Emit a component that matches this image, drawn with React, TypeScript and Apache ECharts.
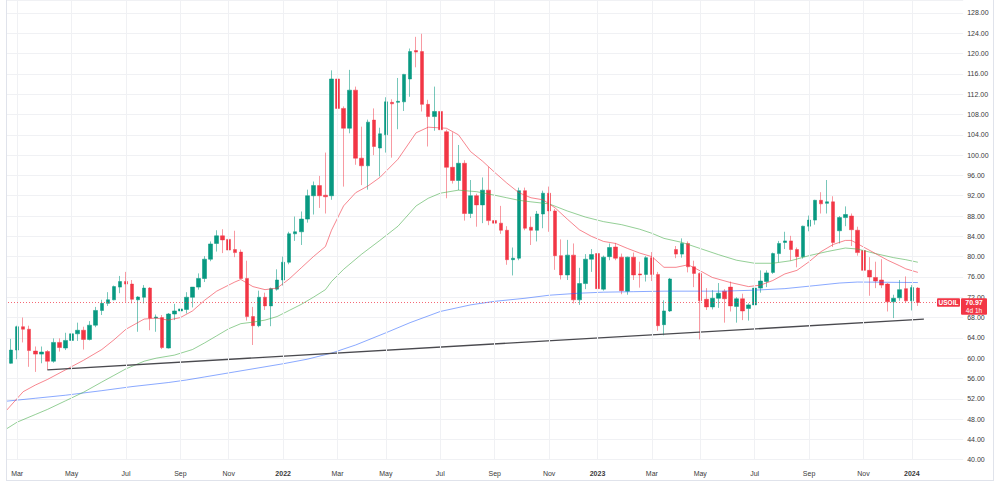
import React, { useEffect, useRef } from 'react';
import * as echarts from 'echarts';

// Weekly USOIL candles: [week, open, high, low, close]
const candles: [string, number, number, number, number][] = [
  ['2021-02-15', 59.8, 62.3, 58.5, 59.0],
  ['2021-02-22', 59.0, 63.8, 58.9, 61.6],
  ['2021-03-01', 61.6, 66.4, 59.8, 66.2],
  ['2021-03-08', 66.2, 68.0, 63.1, 65.7],
  ['2021-03-15', 65.7, 66.4, 58.3, 61.5],
  ['2021-03-22', 61.4, 62.3, 57.3, 60.8],
  ['2021-03-29', 60.8, 62.3, 59.0, 61.2],
  ['2021-04-05', 61.3, 61.6, 57.7, 59.4],
  ['2021-04-12', 59.4, 63.9, 59.1, 63.1],
  ['2021-04-19', 63.1, 63.9, 61.3, 62.1],
  ['2021-04-26', 62.0, 65.0, 61.6, 63.5],
  ['2021-05-03', 63.5, 66.7, 63.2, 64.8],
  ['2021-05-10', 64.8, 67.0, 63.4, 65.5],
  ['2021-05-17', 65.5, 66.2, 61.7, 63.7],
  ['2021-05-24', 63.7, 67.3, 63.5, 66.5],
  ['2021-05-31', 66.5, 70.1, 66.1, 69.4],
  ['2021-06-07', 69.4, 71.5, 68.5, 70.8],
  ['2021-06-14', 70.8, 73.0, 70.3, 71.5],
  ['2021-06-21', 71.5, 74.3, 71.4, 74.1],
  ['2021-06-28', 74.0, 76.2, 72.8, 75.1],
  ['2021-07-05', 75.1, 77.0, 71.1, 74.6],
  ['2021-07-12', 74.6, 75.4, 70.8, 71.6],
  ['2021-07-19', 71.5, 72.2, 65.2, 72.05],
  ['2021-07-26', 72.0, 74.4, 70.8, 73.8],
  ['2021-08-02', 73.8, 74.0, 65.5, 67.9],
  ['2021-08-09', 67.9, 68.6, 65.2, 68.1],
  ['2021-08-16', 68.0, 68.5, 61.8, 62.1],
  ['2021-08-23', 62.0, 68.9, 61.9, 68.7],
  ['2021-08-30', 68.7, 70.7, 67.5, 69.3],
  ['2021-09-06', 69.3, 70.3, 67.6, 69.7],
  ['2021-09-13', 69.6, 73.0, 68.8, 72.0],
  ['2021-09-20', 72.0, 74.0, 70.0, 74.0],
  ['2021-09-27', 74.0, 76.7, 73.5, 75.7],
  ['2021-10-04', 75.7, 80.1, 75.0, 79.5],
  ['2021-10-11', 79.5, 83.0, 79.1, 82.5],
  ['2021-10-18', 82.6, 85.2, 81.0, 84.1],
  ['2021-10-25', 84.1, 85.4, 80.7, 83.3],
  ['2021-11-01', 83.4, 84.9, 78.4, 81.3],
  ['2021-11-08', 81.4, 85.1, 79.9, 80.8],
  ['2021-11-15', 80.9, 81.4, 75.6, 75.7],
  ['2021-11-22', 75.7, 79.2, 67.4, 68.2],
  ['2021-11-29', 68.2, 70.1, 62.6, 66.4],
  ['2021-12-06', 66.4, 73.3, 66.1, 72.0],
  ['2021-12-13', 72.0, 72.9, 69.5, 70.3],
  ['2021-12-20', 70.3, 73.9, 66.3, 73.7],
  ['2021-12-27', 73.6, 77.5, 73.3, 75.4],
  ['2022-01-03', 75.4, 80.0, 74.3, 78.9],
  ['2022-01-10', 78.9, 84.9, 78.5, 84.5],
  ['2022-01-17', 84.5, 87.9, 83.1, 84.9],
  ['2022-01-24', 84.9, 88.9, 82.3, 87.4],
  ['2022-01-31', 87.4, 93.2, 86.7, 92.0],
  ['2022-02-07', 92.0, 94.8, 88.3, 94.0],
  ['2022-02-14', 94.0, 95.9, 89.6, 92.0],
  ['2022-02-21', 92.1, 100.5, 88.5, 91.8],
  ['2022-02-28', 92.0, 116.7, 91.2, 115.0],
  ['2022-03-07', 115.0, 129.6, 104.3, 109.2],
  ['2022-03-14', 109.2, 109.6, 93.8, 105.3],
  ['2022-03-21', 105.3, 116.8, 104.3, 112.8],
  ['2022-03-28', 112.8, 113.5, 98.1, 99.4],
  ['2022-04-04', 99.4, 105.6, 94.1, 97.9],
  ['2022-04-11', 97.9, 107.0, 93.2, 106.5],
  ['2022-04-18', 106.9, 109.2, 100.0, 101.7],
  ['2022-04-25', 101.4, 105.4, 95.8, 104.2],
  ['2022-05-02', 104.0, 111.4, 100.5, 110.5],
  ['2022-05-09', 110.4, 111.0, 99.5, 110.1],
  ['2022-05-16', 110.4, 115.2, 105.1, 110.6],
  ['2022-05-23', 110.5, 116.0, 108.7, 115.9],
  ['2022-05-30', 115.0, 121.0, 111.5, 120.4],
  ['2022-06-06', 120.6, 123.3, 117.3, 120.3],
  ['2022-06-13', 120.4, 123.9, 108.6, 110.0],
  ['2022-06-20', 110.0, 110.9, 101.7, 107.6],
  ['2022-06-27', 107.6, 113.5, 104.8, 108.6],
  ['2022-07-04', 108.6, 111.4, 95.1, 105.0],
  ['2022-07-11', 104.6, 105.0, 91.5, 97.6],
  ['2022-07-18', 97.6, 104.5, 94.4, 95.0],
  ['2022-07-25', 95.0, 102.0, 93.1, 98.4],
  ['2022-08-01', 98.4, 99.0, 87.1, 88.5],
  ['2022-08-08', 88.5, 95.1, 87.6, 92.0],
  ['2022-08-15', 92.0, 92.4, 85.9, 90.2],
  ['2022-08-22', 90.2, 95.6, 86.6, 93.1],
  ['2022-08-29', 93.1, 97.7, 86.2, 87.1],
  ['2022-09-05', 87.1, 90.2, 81.3, 86.6],
  ['2022-09-12', 86.6, 90.0, 84.5, 85.2],
  ['2022-09-19', 85.2, 86.0, 78.4, 79.4],
  ['2022-09-26', 79.4, 81.8, 76.3, 79.7],
  ['2022-10-03', 79.7, 93.6, 79.3, 93.0],
  ['2022-10-10', 93.0, 93.6, 85.2, 85.6],
  ['2022-10-17', 85.8, 87.9, 82.3, 85.2],
  ['2022-10-24', 85.2, 89.0, 83.0, 88.4],
  ['2022-10-31', 88.4, 93.0, 85.6, 92.5],
  ['2022-11-07', 92.5, 93.8, 84.9, 89.0],
  ['2022-11-14', 89.0, 89.4, 77.4, 80.2],
  ['2022-11-21', 80.2, 83.4, 75.5, 76.4],
  ['2022-11-28', 76.4, 83.3, 75.4, 80.3],
  ['2022-12-05', 80.3, 82.6, 70.8, 71.5],
  ['2022-12-12', 71.5, 77.8, 70.5, 74.7],
  ['2022-12-19', 74.7, 80.5, 73.6, 79.5],
  ['2022-12-26', 79.5, 81.5, 77.0, 80.4],
  ['2023-01-02', 80.6, 81.4, 72.8, 73.7],
  ['2023-01-09', 73.6, 80.2, 73.3, 79.9],
  ['2023-01-16', 80.0, 82.6, 79.3, 81.8],
  ['2023-01-23', 81.9, 82.7, 79.3, 79.7],
  ['2023-01-30', 79.9, 80.6, 72.6, 73.3],
  ['2023-02-06', 73.2, 80.0, 72.5, 79.9],
  ['2023-02-13', 79.9, 80.8, 75.4, 76.4],
  ['2023-02-20', 76.6, 79.0, 73.9, 76.4],
  ['2023-02-27', 76.5, 80.1, 75.1, 79.8],
  ['2023-03-06', 79.8, 80.9, 75.2, 76.5],
  ['2023-03-13', 76.5, 77.0, 65.4, 66.4],
  ['2023-03-20', 66.6, 71.4, 64.5, 69.3],
  ['2023-03-27', 69.3, 75.8, 69.1, 75.6],
  ['2023-04-03', 81.4, 82.1, 79.7, 80.5],
  ['2023-04-10', 80.5, 83.6, 79.8, 82.6],
  ['2023-04-17', 82.6, 83.0, 76.9, 78.0],
  ['2023-04-24', 78.0, 79.2, 74.0, 76.7],
  ['2023-05-01', 76.7, 76.9, 63.7, 71.3],
  ['2023-05-08', 71.6, 73.8, 69.5, 70.1],
  ['2023-05-15', 70.1, 73.4, 69.6, 71.8],
  ['2023-05-22', 71.8, 74.8, 69.9, 72.8],
  ['2023-05-29', 73.2, 73.6, 67.0, 71.7],
  ['2023-06-05', 74.0, 75.1, 69.2, 70.3],
  ['2023-06-12', 70.2, 72.0, 67.0, 71.7],
  ['2023-06-19', 71.7, 72.7, 67.5, 69.3],
  ['2023-06-26', 69.8, 70.8, 67.4, 70.5],
  ['2023-07-03', 70.5, 73.9, 69.8, 73.8],
  ['2023-07-10', 73.8, 77.3, 72.9, 75.2],
  ['2023-07-17', 75.1, 77.3, 74.0, 76.8],
  ['2023-07-24', 76.9, 80.8, 76.6, 80.6],
  ['2023-07-31', 80.6, 83.1, 78.9, 82.6],
  ['2023-08-07', 82.8, 84.9, 81.5, 83.1],
  ['2023-08-14', 83.1, 84.1, 79.2, 81.4],
  ['2023-08-21', 81.4, 81.8, 77.9, 80.0],
  ['2023-08-28', 80.0, 86.1, 79.6, 86.0],
  ['2023-09-04', 86.0, 88.1, 85.0, 87.2],
  ['2023-09-11', 87.2, 91.2, 86.3, 91.1],
  ['2023-09-18', 91.1, 92.7, 88.5, 90.4],
  ['2023-09-25', 90.5, 95.1, 88.5, 90.8],
  ['2023-10-02', 90.8, 91.9, 81.9, 82.8],
  ['2023-10-09', 85.1, 88.0, 82.6, 87.7],
  ['2023-10-16', 87.7, 89.9, 86.0, 88.3],
  ['2023-10-23', 88.0, 88.5, 82.1, 85.3],
  ['2023-10-30', 85.2, 85.9, 80.2, 80.8],
  ['2023-11-06', 81.2, 82.3, 75.1, 77.3],
  ['2023-11-13', 77.3, 79.9, 72.3, 76.0],
  ['2023-11-20', 75.9, 79.0, 73.8, 75.2],
  ['2023-11-27', 75.4, 79.5, 73.8, 74.4],
  ['2023-12-04', 74.6, 74.8, 69.2, 71.1],
  ['2023-12-11', 71.1, 72.5, 67.9, 71.8],
  ['2023-12-18', 71.9, 75.4, 71.3, 73.5],
  ['2023-12-25', 73.7, 76.1, 71.0, 71.3],
  ['2024-01-01', 71.3, 74.4, 69.4, 73.9],
  ['2024-01-08', 73.8, 74.0, 70.3, 70.97],
];

const leadingWeeks = ['2021-02-08'];
const futureWeeks = ['2024-01-15', '2024-01-22', '2024-01-29', '2024-02-05', '2024-02-12', '2024-02-19', '2024-02-26'];

// Moving averages (red = short, green = medium, blue = long)
const maRed: [string, number][] = [
  ['2021-02-15', 49.4], ['2021-03-08', 53.4], ['2021-03-22', 54.7], ['2021-04-05', 55.8], ['2021-04-26', 57.7],
  ['2021-05-17', 59.6], ['2021-06-07', 61.7], ['2021-06-21', 63.6], ['2021-07-05', 65.7], ['2021-07-26', 67.7],
  ['2021-08-09', 67.9], ['2021-08-23', 67.5], ['2021-09-06', 68.0], ['2021-09-20', 69.3], ['2021-10-04', 71.4],
  ['2021-10-18', 73.2], ['2021-11-08', 75.0], ['2021-11-15', 75.5], ['2021-11-29', 74.1], ['2021-12-13', 73.5],
  ['2021-12-27', 73.8], ['2022-01-10', 75.6], ['2022-01-24', 77.8], ['2022-02-07', 80.0], ['2022-02-21', 82.0],
  ['2022-02-28', 85.2], ['2022-03-14', 90.0], ['2022-03-28', 92.6], ['2022-04-11', 93.9], ['2022-04-25', 95.6],
  ['2022-05-16', 99.2], ['2022-06-06', 104.4], ['2022-06-20', 105.5], ['2022-07-11', 105.3], ['2022-07-25', 104.0],
  ['2022-08-08', 100.7], ['2022-08-22', 98.8], ['2022-09-05', 96.6], ['2022-09-19', 94.5], ['2022-10-03', 92.6],
  ['2022-10-17', 91.6], ['2022-10-31', 91.2], ['2022-11-14', 89.6], ['2022-11-28', 87.4], ['2022-12-12', 85.3],
  ['2022-12-26', 84.0], ['2023-01-09', 83.0], ['2023-01-23', 82.6], ['2023-02-06', 81.6], ['2023-02-20', 80.7],
  ['2023-03-06', 80.0], ['2023-03-20', 77.9], ['2023-04-03', 77.9], ['2023-04-17', 78.4], ['2023-05-01', 77.2],
  ['2023-05-15', 75.9], ['2023-06-05', 74.9], ['2023-06-26', 74.1], ['2023-07-10', 74.4], ['2023-07-24', 75.3],
  ['2023-08-07', 76.6], ['2023-08-21', 77.3], ['2023-09-04', 79.0], ['2023-09-18', 81.0], ['2023-10-02', 82.4],
  ['2023-10-16', 83.2], ['2023-10-23', 83.2], ['2023-11-06', 81.9], ['2023-11-20', 80.6], ['2023-12-04', 79.3],
  ['2023-12-18', 78.2], ['2023-12-25', 77.6], ['2024-01-08', 76.9],
];

const maGreen: [string, number][] = [
  ['2021-02-15', 45.9], ['2021-03-01', 47.4], ['2021-03-22', 48.9], ['2021-04-05', 49.9], ['2021-04-26', 51.6],
  ['2021-05-17', 53.3], ['2021-06-07', 55.3], ['2021-06-21', 56.6], ['2021-07-05', 57.9], ['2021-07-26', 59.4],
  ['2021-08-09', 60.0], ['2021-08-30', 60.6], ['2021-09-20', 61.7], ['2021-10-04', 63.0], ['2021-10-18', 64.4],
  ['2021-11-01', 65.8], ['2021-11-15', 66.8], ['2021-11-29', 67.1], ['2021-12-13', 67.5], ['2021-12-27', 68.2],
  ['2022-01-10', 69.4], ['2022-01-24', 70.6], ['2022-02-07', 72.0], ['2022-02-21', 73.5], ['2022-02-28', 75.1],
  ['2022-03-14', 77.5], ['2022-04-04', 80.5], ['2022-04-25', 83.2], ['2022-05-16', 86.0], ['2022-06-06', 90.0],
  ['2022-06-20', 91.5], ['2022-07-04', 92.5], ['2022-07-25', 93.1], ['2022-08-15', 92.8], ['2022-09-05', 92.1],
  ['2022-09-19', 91.6], ['2022-10-03', 91.1], ['2022-10-17', 90.8], ['2022-11-07', 90.4], ['2022-11-28', 89.0],
  ['2022-12-19', 87.8], ['2023-01-09', 86.9], ['2023-01-30', 86.3], ['2023-02-20', 85.4], ['2023-03-06', 84.6],
  ['2023-03-20', 83.6], ['2023-04-10', 82.8], ['2023-05-01', 81.6], ['2023-05-22', 80.4], ['2023-06-12', 79.3],
  ['2023-07-03', 78.7], ['2023-07-24', 78.7], ['2023-08-14', 79.2], ['2023-09-04', 80.2], ['2023-09-25', 81.0],
  ['2023-10-16', 81.7], ['2023-10-30', 81.5], ['2023-11-20', 80.6], ['2023-12-11', 79.8], ['2023-12-25', 79.4],
  ['2024-01-08', 78.9],
];

const maBlue: [string, number][] = [
  ['2021-02-15', 51.5], ['2021-03-22', 52.1], ['2021-04-26', 52.7], ['2021-06-07', 53.6], ['2021-07-12', 54.4],
  ['2021-08-23', 55.2], ['2021-09-13', 55.7], ['2021-10-04', 56.3], ['2021-11-08', 57.3], ['2021-12-06', 58.1],
  ['2022-01-03', 58.9], ['2022-01-31', 59.8], ['2022-02-28', 61.0], ['2022-03-28', 62.6], ['2022-05-02', 65.0],
  ['2022-05-30', 67.0], ['2022-07-04', 69.2], ['2022-08-08', 70.5], ['2022-09-05', 71.2], ['2022-10-10', 71.8],
  ['2022-11-07', 72.4], ['2022-12-12', 72.8], ['2023-01-09', 73.0], ['2023-02-13', 73.1], ['2023-03-20', 73.2],
  ['2023-04-24', 73.2], ['2023-05-29', 73.2], ['2023-07-03', 73.4], ['2023-08-07', 73.7], ['2023-09-11', 74.3],
  ['2023-10-09', 74.8], ['2023-10-30', 75.0], ['2023-12-04', 74.95], ['2024-01-08', 74.9],
];

const trendLine: [string, number][] = [['2021-04-05', 57.7], ['2024-01-15', 67.7]];

const lastPrice = 70.97;
const symbolName = 'USOIL';
const countdown = '4d 1h';
const monthNames = ['Jan', 'Feb', 'Mar', 'Apr', 'May', 'Jun', 'Jul', 'Aug', 'Sep', 'Oct', 'Nov', 'Dec'];

const GREEN = '#089981';
const RED = '#f23645';
const FONT = "'Liberation Sans', Arial, sans-serif";
const TEXT = '#3a3a3a';
const GRID = '#f0f1f4';
const SHIFT = 4; // the chart canvas starts 4px left of the page, so the first weekly bar is cut by the pane edge

export default function App() {
  const ref = useRef<HTMLDivElement>(null);

  useEffect(() => {
    if (!ref.current) return;
    const chart = echarts.init(ref.current, undefined, { renderer: 'svg' });

    const categories = [...leadingWeeks, ...candles.map((c) => c[0]), ...futureWeeks];
    const month = (d: string) => parseInt(d.slice(5, 7), 10);
    const labelDates: string[] = [];
    for (let i = 1; i < categories.length; i++) {
      const m = month(categories[i]);
      if (m !== month(categories[i - 1]) && m % 2 === 1) labelDates.push(categories[i]);
    }
    const labelSet = new Set(labelDates);

    chart.setOption({
      animation: false,
      grid: { left: 0, right: 36.8, top: 0, bottom: 23.3 },
      xAxis: {
        type: 'category',
        data: categories,
        boundaryGap: true,
        axisLine: { show: false },
        axisTick: { show: false },
        splitLine: { show: false },
        axisLabel: {
          interval: (_i: number, v: string) => labelSet.has(v),
          formatter: (v: string) => (month(v) === 1 ? `{y|${v.slice(0, 4)}}` : monthNames[month(v) - 1]),
          rich: { y: { fontWeight: 'bold', fontSize: 7, color: TEXT, fontFamily: FONT } },
          fontSize: 7,
          color: TEXT,
          fontFamily: FONT,
          margin: 10,
        },
      },
      yAxis: {
        type: 'value',
        position: 'right',
        min: 40,
        max: 130.56,
        interval: 4,
        axisLine: { show: false },
        axisTick: { show: false },
        splitLine: { lineStyle: { color: GRID, width: 1 } },
        axisLabel: {
          formatter: (v: number) => (Math.abs(v % 4) < 1e-6 ? v.toFixed(2) : ''),
          fontSize: 7,
          color: TEXT,
          fontFamily: FONT,
          margin: 4,
        },
      },
      series: [
        {
          type: 'line',
          data: [],
          z: 1,
          silent: true,
          markLine: {
            silent: true,
            symbol: 'none',
            label: { show: false },
            lineStyle: { color: GRID, width: 1, type: 'solid' },
            data: labelDates.map((d) => ({ xAxis: categories.indexOf(d) })),
          },
        },
        {
          type: 'candlestick',
          z: 2,
          barWidth: 4,
          data: candles.map((r) => [r[0], r[1], r[4], r[3], r[2]]),
          encode: { x: 0, y: [1, 2, 3, 4] },
          itemStyle: {
            color: GREEN,
            color0: RED,
            borderColor: 'rgba(8,153,129,0.55)',
            borderColor0: 'rgba(242,54,69,0.5)',
            borderWidth: 1,
          },
          markLine: {
            silent: true,
            symbol: 'none',
            label: { show: false },
            lineStyle: { color: 'rgba(242,54,69,0.75)', width: 1, type: [1, 2] },
            data: [{ yAxis: lastPrice }],
          },
        },
        {
          type: 'line',
          data: maBlue,
          symbol: 'none',
          z: 3,
          lineStyle: { color: 'rgba(41,98,255,0.55)', width: 1 },
        },
        {
          type: 'line',
          data: maGreen,
          symbol: 'none',
          z: 3,
          lineStyle: { color: 'rgba(76,175,80,0.6)', width: 1 },
        },
        {
          type: 'line',
          data: maRed,
          symbol: 'none',
          z: 3,
          lineStyle: { color: 'rgba(242,54,69,0.6)', width: 1 },
        },
        {
          type: 'line',
          data: trendLine,
          symbol: 'none',
          z: 4,
          lineStyle: { color: '#4a4a4f', width: 1.4 },
        },
      ],
    });

    const py = chart.convertToPixel({ yAxisIndex: 0 }, lastPrice) as number;
    const border = { stroke: '#e0e3eb', lineWidth: 1 };
    const X = (x: number) => x + SHIFT; // page x -> canvas x
    chart.setOption({
      graphic: [
        { type: 'rect', z: 100, silent: true, shape: { x: 0, y: 0, width: X(6), height: 483 }, style: { fill: '#ffffff' } },
        { type: 'line', z: 101, silent: true, shape: { x1: X(6.5), y1: 0, x2: X(6.5), y2: 481 }, style: border },
        { type: 'line', z: 101, silent: true, shape: { x1: X(6), y1: 480.5, x2: X(994), y2: 480.5 }, style: border },
        { type: 'line', z: 101, silent: true, shape: { x1: X(993.5), y1: 0, x2: X(993.5), y2: 481 }, style: border },
        { type: 'rect', z: 110, silent: true, shape: { x: X(937), y: py - 4.3, width: 23, height: 8.6, r: 1 }, style: { fill: RED } },
        {
          type: 'text', z: 111, silent: true, x: X(948.5), y: py,
          style: { text: symbolName, fill: '#ffffff', fontSize: 6.5, fontWeight: 'bold', fontFamily: FONT, align: 'center', verticalAlign: 'middle' },
        },
        { type: 'rect', z: 110, silent: true, shape: { x: X(961), y: py - 4.3, width: 26, height: 16.6, r: 1 }, style: { fill: RED } },
        {
          type: 'text', z: 111, silent: true, x: X(974), y: py,
          style: { text: lastPrice.toFixed(2), fill: '#ffffff', fontSize: 7, fontWeight: 'bold', fontFamily: FONT, align: 'center', verticalAlign: 'middle' },
        },
        {
          type: 'text', z: 111, silent: true, x: X(974), y: py + 8,
          style: { text: countdown, fill: '#ffffff', fontSize: 6.5, fontFamily: FONT, align: 'center', verticalAlign: 'middle' },
        },
      ],
    });

    return () => chart.dispose();
  }, []);

  return (
    <div
      ref={ref}
      style={{ position: 'fixed', left: -SHIFT, top: 0, width: 1000 + SHIFT, height: 483, background: '#ffffff' }}
    />
  );
}
